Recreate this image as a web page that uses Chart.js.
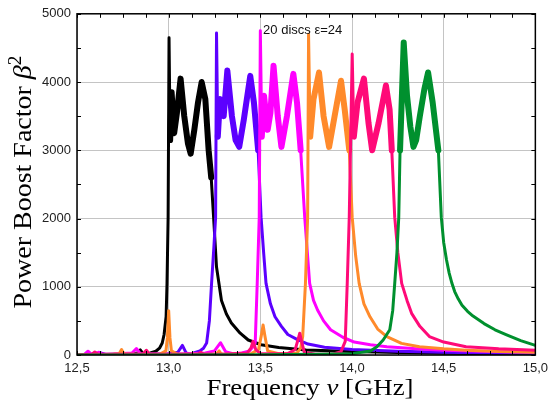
<!DOCTYPE html>
<html>
<head>
<meta charset="utf-8">
<script src="https://cdn.jsdelivr.net/npm/chart.js@4.4.0/dist/chart.umd.min.js"></script>
<style>
    html, body { margin: 0; padding: 0; background: #fff; }
    #wrap { width: 554px; height: 405px; }
</style>
</head>
<body>
<div id="wrap"><canvas id="boostChart"></canvas></div>
<script>
// Frequencies [GHz] and power boost factor beta^2, one pair of arrays per disc setup
const freqBlack = [12.5, 12.6, 12.7, 12.8, 12.83, 12.845, 12.86, 12.9, 12.93, 12.95, 12.965, 12.975, 12.986, 12.991, 12.997, 13.002, 13.008, 13.016, 13.03, 13.045, 13.065, 13.085, 13.105, 13.12, 13.14, 13.16, 13.18, 13.2, 13.218, 13.232, 13.245, 13.261, 13.288, 13.315, 13.342, 13.39, 13.434, 13.504, 13.6, 13.75, 14.0, 14.25, 14.5, 14.75, 15.0];
const boostBlack = [0, 5, 10, 15, 30, 75, 20, 30, 55, 100, 175, 300, 560, 1050, 2020, 4650, 3150, 3850, 3250, 3550, 4050, 3500, 3100, 2950, 3300, 3700, 4000, 3750, 3000, 2600, 2020, 1290, 800, 600, 470, 320, 220, 150, 110, 75, 50, 35, 25, 20, 15];

const freqPurple = [12.5, 12.6, 12.63, 12.66, 12.8, 13.0, 13.05, 13.075, 13.095, 13.12, 13.17, 13.19, 13.207, 13.222, 13.234, 13.247, 13.256, 13.261, 13.268, 13.28, 13.3, 13.32, 13.345, 13.365, 13.385, 13.41, 13.445, 13.465, 13.488, 13.504, 13.518, 13.531, 13.555, 13.58, 13.615, 13.65, 13.7, 13.76, 13.85, 14.0, 14.25, 14.5, 14.75, 15.0];
const boostPurple = [0, 5, 30, 5, 10, 20, 40, 140, 30, 15, 60, 100, 175, 500, 1050, 1600, 2020, 4720, 3200, 3750, 3500, 4170, 3500, 3150, 3050, 3450, 4090, 3700, 3000, 2020, 1500, 1050, 750, 560, 420, 300, 230, 160, 115, 80, 55, 40, 30, 25];

const freqMagenta = [12.5, 12.54, 12.56, 12.58, 12.6, 12.62, 12.64, 12.7, 12.8, 12.824, 12.845, 12.9, 13.0, 13.1, 13.2, 13.25, 13.283, 13.31, 13.35, 13.4, 13.44, 13.46, 13.472, 13.483, 13.494, 13.5, 13.508, 13.52, 13.54, 13.555, 13.572, 13.595, 13.615, 13.645, 13.68, 13.7, 13.72, 13.742, 13.769, 13.79, 13.812, 13.845, 13.883, 13.95, 14.012, 14.1, 14.19, 14.35, 14.5, 14.75, 15.0];
const boostMagenta = [0, 10, 55, 10, 20, 40, 10, 15, 30, 95, 20, 15, 10, 20, 30, 60, 180, 50, 20, 30, 60, 120, 175, 1050, 2020, 4750, 3200, 3800, 3300, 3550, 4240, 3500, 3050, 3500, 4120, 3700, 3000, 2020, 1050, 800, 660, 500, 370, 260, 190, 150, 120, 90, 70, 50, 40];

const freqOrange = [12.5, 12.7, 12.73, 12.743, 12.756, 12.8, 12.95, 12.985, 12.993, 13.0, 13.007, 13.015, 13.05, 13.26, 13.275, 13.285, 13.3, 13.45, 13.49, 13.505, 13.515, 13.525, 13.54, 13.6, 13.7, 13.72, 13.731, 13.746, 13.758, 13.763, 13.772, 13.79, 13.82, 13.845, 13.875, 13.905, 13.94, 13.96, 13.985, 14.001, 14.02, 14.039, 14.065, 14.098, 14.14, 14.19, 14.27, 14.368, 14.5, 14.622, 14.8, 15.0];
const boostOrange = [0, 10, 20, 80, 20, 10, 10, 60, 250, 650, 250, 60, 10, 15, 60, 20, 10, 20, 80, 280, 440, 280, 60, 20, 30, 100, 270, 1050, 2020, 4700, 3200, 3750, 4140, 3500, 3050, 3500, 4020, 3600, 3000, 2020, 1450, 1050, 750, 560, 380, 270, 170, 120, 90, 70, 50, 40];

const freqPink = [12.5, 12.58, 12.597, 12.615, 12.7, 12.86, 12.878, 12.895, 13.0, 13.16, 13.175, 13.19, 13.3, 13.43, 13.45, 13.46, 13.475, 13.5, 13.65, 13.69, 13.705, 13.715, 13.725, 13.74, 13.8, 13.9, 13.94, 13.963, 13.974, 13.985, 14.001, 14.01, 14.03, 14.065, 14.09, 14.11, 14.145, 14.185, 14.205, 14.217, 14.233, 14.25, 14.271, 14.3, 14.325, 14.37, 14.422, 14.5, 14.622, 14.8, 15.0];
const boostPink = [0, 10, 45, 10, 10, 15, 70, 15, 10, 10, 40, 10, 10, 30, 110, 200, 80, 20, 20, 80, 220, 320, 200, 40, 10, 15, 50, 200, 1050, 2020, 4410, 3200, 3700, 4050, 3400, 3000, 3400, 3950, 3600, 3000, 2020, 1500, 1050, 800, 610, 420, 270, 190, 120, 90, 70];

const freqGreen = [12.5, 13.0, 13.5, 13.8, 14.0, 14.1, 14.136, 14.17, 14.206, 14.222, 14.233, 14.245, 14.255, 14.262, 14.282, 14.3, 14.318, 14.335, 14.35, 14.37, 14.395, 14.415, 14.44, 14.471, 14.487, 14.5, 14.515, 14.53, 14.545, 14.56, 14.58, 14.6, 14.63, 14.66, 14.72, 14.78, 14.84, 14.92, 15.0];
const boostGreen = [0, 0, 5, 10, 20, 60, 120, 220, 370, 650, 1050, 1500, 2020, 3000, 4580, 3800, 3350, 3050, 3150, 3500, 3900, 4140, 3700, 3000, 2020, 1650, 1400, 1200, 1050, 930, 820, 730, 640, 570, 460, 370, 300, 210, 140];

const xTicks = [12.5, 13.0, 13.5, 14.0, 14.5, 15.0];
const yTicks = [0, 1000, 2000, 3000, 4000, 5000];
const noteText = '20 discs \u03B5=24';

function toPoints(freq, boost) {
    return freq.map((f, i) => ({ x: f, y: boost[i] }));
}

const series = [
    { label: 'black', freq: freqBlack, boost: boostBlack, color: '#000000', bandMax: 4300 },
    { label: 'purple', freq: freqPurple, boost: boostPurple, color: '#5c00ff', bandMax: 4300 },
    { label: 'magenta', freq: freqMagenta, boost: boostMagenta, color: '#ff00ff', bandMax: 4300 },
    { label: 'orange', freq: freqOrange, boost: boostOrange, color: '#ff8a2b', bandMax: 4300 },
    { label: 'pink', freq: freqPink, boost: boostPink, color: '#ff0a78', bandMax: 4300 },
    { label: 'green', freq: freqGreen, boost: boostGreen, color: '#00902e', bandMax: 5000 }
];

// each setup: a thin line for the whole curve, plus a thick overlay where the
// many random realisations pile up into a band
const datasets = [];
series.forEach((s, i) => {
    const order = (series.length - i) * 2;
    datasets.push({
        label: s.label,
        data: toPoints(s.freq, s.boost),
        borderColor: s.color,
        borderWidth: 3,
        borderJoinStyle: 'round',
        pointRadius: 0,
        tension: 0,
        order: order
    });
    datasets.push({
        label: s.label + ' band',
        data: toPoints(s.freq, s.boost.map(v => (v >= 2400 && v <= s.bandMax) ? v : null)),
        borderColor: s.color,
        borderWidth: 6,
        borderJoinStyle: 'round',
        borderCapStyle: 'round',
        pointRadius: 0,
        tension: 0,
        spanGaps: false,
        order: order - 1
    });
});

// frame, inward ticks, axis titles and the note
const framePlugin = {
    id: 'frame',
    afterDraw(chart) {
        const { ctx, chartArea: a, scales: { x, y } } = chart;
        ctx.save();
        ctx.strokeStyle = '#000';
        ctx.lineWidth = 1;
        for (let f = 12.5; f <= 15.0001; f += 0.125) {
            const px = Math.round(x.getPixelForValue(f)) + 0.5;
            ctx.beginPath();
            ctx.moveTo(px, a.bottom); ctx.lineTo(px, a.bottom - 4);
            ctx.moveTo(px, a.top); ctx.lineTo(px, a.top + 4);
            ctx.stroke();
        }
        for (let v = 0; v <= 5000; v += 500) {
            const py = Math.round(y.getPixelForValue(v)) + 0.5;
            ctx.beginPath();
            ctx.moveTo(a.left, py); ctx.lineTo(a.left + 4, py);
            ctx.moveTo(a.right, py); ctx.lineTo(a.right - 4, py);
            ctx.stroke();
        }
        ctx.lineWidth = 1.5;
        ctx.strokeRect(a.left, a.top, a.right - a.left, a.bottom - a.top);

        // note
        ctx.fillStyle = '#111';
        ctx.font = '13px "Liberation Sans", Arial, sans-serif';
        ctx.textAlign = 'left';
        ctx.textBaseline = 'alphabetic';
        ctx.fillText(noteText, x.getPixelForValue(13.515), y.getPixelForValue(4700));

        // axis titles with italic greek letters, stretched to the width of the original LaTeX labels
        const serif = '"Liberation Serif", "Times New Roman", serif';
        const drawParts = (parts, size, target) => {
            let w = 0;
            parts.forEach(p => {
                ctx.font = (p.it ? 'italic ' : '') + Math.round(size * (p.sup ? 0.7 : 1)) + 'px ' + serif;
                p.w = ctx.measureText(p.t).width;
                w += p.w;
            });
            ctx.scale(target / w, 1);
            let cx = -w / 2;
            parts.forEach(p => {
                ctx.font = (p.it ? 'italic ' : '') + Math.round(size * (p.sup ? 0.7 : 1)) + 'px ' + serif;
                ctx.fillText(p.t, cx, p.sup ? -size * 0.4 : 0);
                cx += p.w;
            });
        };
        ctx.fillStyle = '#000';
        ctx.save();
        ctx.translate(310, 395);
        drawParts([{ t: 'Frequency ' }, { t: '\u03BD', it: true }, { t: ' [GHz]' }], 23, 207);
        ctx.restore();

        ctx.save();
        ctx.translate(31, 182);
        ctx.rotate(-Math.PI / 2);
        drawParts([{ t: 'Power Boost Factor ' }, { t: '\u03B2', it: true }, { t: '2', sup: true }], 26, 253);
        ctx.restore();
        ctx.restore();
    }
};

const tickFont = { family: '"Liberation Sans", Arial, sans-serif', size: 13 };

const config = {
    type: 'line',
    data: { datasets: datasets },
    options: {
        responsive: true,
        maintainAspectRatio: false,
        animation: false,
        devicePixelRatio: 1,
        layout: { padding: { top: 13, right: 14, left: 0, bottom: 0 } },
        plugins: {
            legend: { display: false },
            tooltip: { enabled: false }
        },
        scales: {
            x: {
                type: 'linear',
                min: xTicks[0],
                max: xTicks[xTicks.length - 1],
                afterFit: (scale) => { scale.height = 50; },
                afterBuildTicks: (scale) => { scale.ticks = xTicks.map(v => ({ value: v })); },
                ticks: {
                    font: tickFont,
                    color: '#222',
                    padding: 6,
                    maxRotation: 0,
                    callback: (v) => Number(v).toFixed(1).replace('.', ',')
                },
                grid: { color: '#c4c4c4', lineWidth: 1, drawTicks: false },
                border: { display: false }
            },
            y: {
                min: yTicks[0],
                max: yTicks[yTicks.length - 1],
                afterFit: (scale) => { scale.width = 77; },
                afterBuildTicks: (scale) => { scale.ticks = yTicks.map(v => ({ value: v })); },
                ticks: {
                    font: tickFont,
                    color: '#222',
                    padding: 6,
                    callback: (v) => String(v)
                },
                grid: { color: '#c4c4c4', lineWidth: 1, drawTicks: false },
                border: { display: false }
            }
        }
    },
    plugins: [framePlugin]
};

const boostChart = document.getElementById('boostChart').getContext('2d');
new Chart(boostChart, config);
</script>
</body>
</html>
